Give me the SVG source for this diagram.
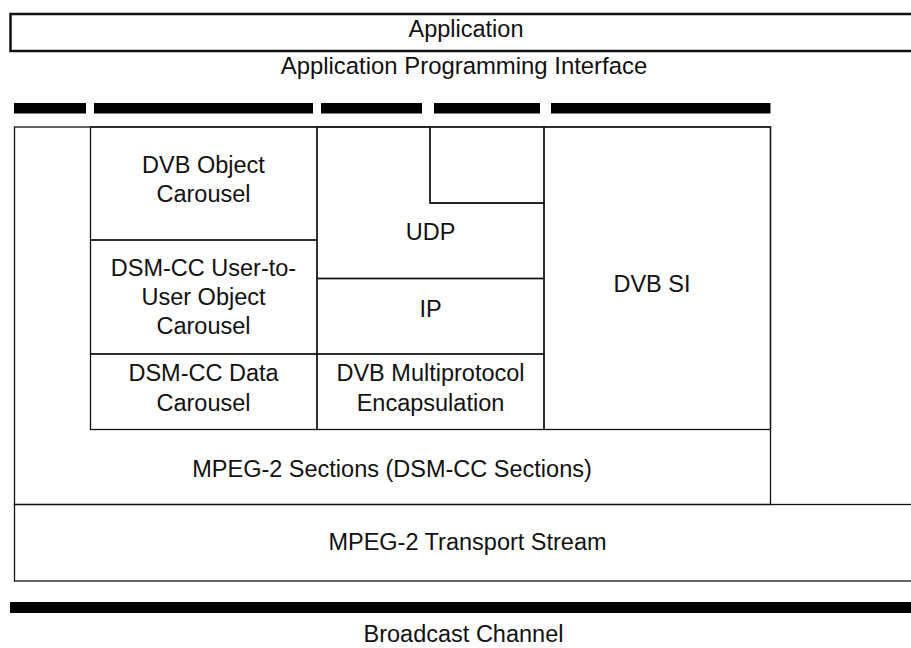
<svg xmlns="http://www.w3.org/2000/svg" width="911" height="648" viewBox="0 0 911 648">
<style>
  .box { fill: none; stroke: #111; stroke-width: 1.3; }
  .thick { fill: none; stroke: #111; stroke-width: 2.5; }
  .bar { fill: #000; }
  text { font-family: "Liberation Sans", Arial, sans-serif; font-size: 23.5px; fill: #111; text-anchor: middle; }
</style>
<rect x="0" y="0" width="911" height="648" fill="#fff"/>
<g id="application">
  <rect class="thick" x="10.5" y="14" width="915" height="37"/>
  <text x="466" y="37">Application</text>
</g>
<g id="api">
  <text x="464" y="74" style="font-size:23.9px">Application Programming Interface</text>
  <rect class="bar" x="14" y="103" width="72" height="10.5"/>
  <rect class="bar" x="94" y="103" width="219" height="10.5"/>
  <rect class="bar" x="321" y="103" width="101" height="10.5"/>
  <rect class="bar" x="434" y="103" width="106" height="10.5"/>
  <rect class="bar" x="551" y="103" width="219.5" height="10.5"/>
</g>
<g id="mpeg2-sections">
  <rect class="box" x="14.5" y="127" width="756" height="377.5"/>
  <text x="392" y="477">MPEG-2 Sections (DSM-CC Sections)</text>
</g>
<g id="dvb-object-carousel">
  <rect class="box" x="90.5" y="127" width="226.5" height="113"/>
  <text x="203.5" y="173">DVB Object</text>
  <text x="203.5" y="202">Carousel</text>
</g>
<g id="dsmcc-u2u-object-carousel">
  <rect class="box" x="90.5" y="240" width="226.5" height="114"/>
  <text x="203.5" y="276">DSM-CC User-to-</text>
  <text x="203.5" y="305">User Object</text>
  <text x="203.5" y="334">Carousel</text>
</g>
<g id="dsmcc-data-carousel">
  <rect class="box" x="90.5" y="354" width="226.5" height="75.5"/>
  <text x="203.5" y="381">DSM-CC Data</text>
  <text x="203.5" y="411">Carousel</text>
</g>
<g id="udp">
  <path class="box" d="M317 127 H430 V203 H544 V278.5 H317 Z"/>
  <text x="430.5" y="240">UDP</text>
</g>
<g id="empty-slot">
  <rect class="box" x="430" y="127" width="114" height="76"/>
</g>
<g id="ip">
  <rect class="box" x="317" y="278.5" width="227" height="75.5"/>
  <text x="430.5" y="317">IP</text>
</g>
<g id="dvb-mpe">
  <rect class="box" x="317" y="354" width="227" height="75.5"/>
  <text x="430.5" y="381">DVB Multiprotocol</text>
  <text x="430.5" y="411">Encapsulation</text>
</g>
<g id="dvb-si">
  <rect class="box" x="544" y="127" width="226.5" height="302.5"/>
  <text x="652" y="292">DVB SI</text>
</g>
<g id="mpeg2-ts">
  <rect class="box" x="14.5" y="504.5" width="912" height="76.5"/>
  <text x="467.5" y="550">MPEG-2 Transport Stream</text>
</g>
<g id="broadcast-channel">
  <rect class="bar" x="10" y="602" width="905" height="11"/>
  <text x="463.5" y="642">Broadcast Channel</text>
</g>
<g id="connectors"></g>
</svg>
